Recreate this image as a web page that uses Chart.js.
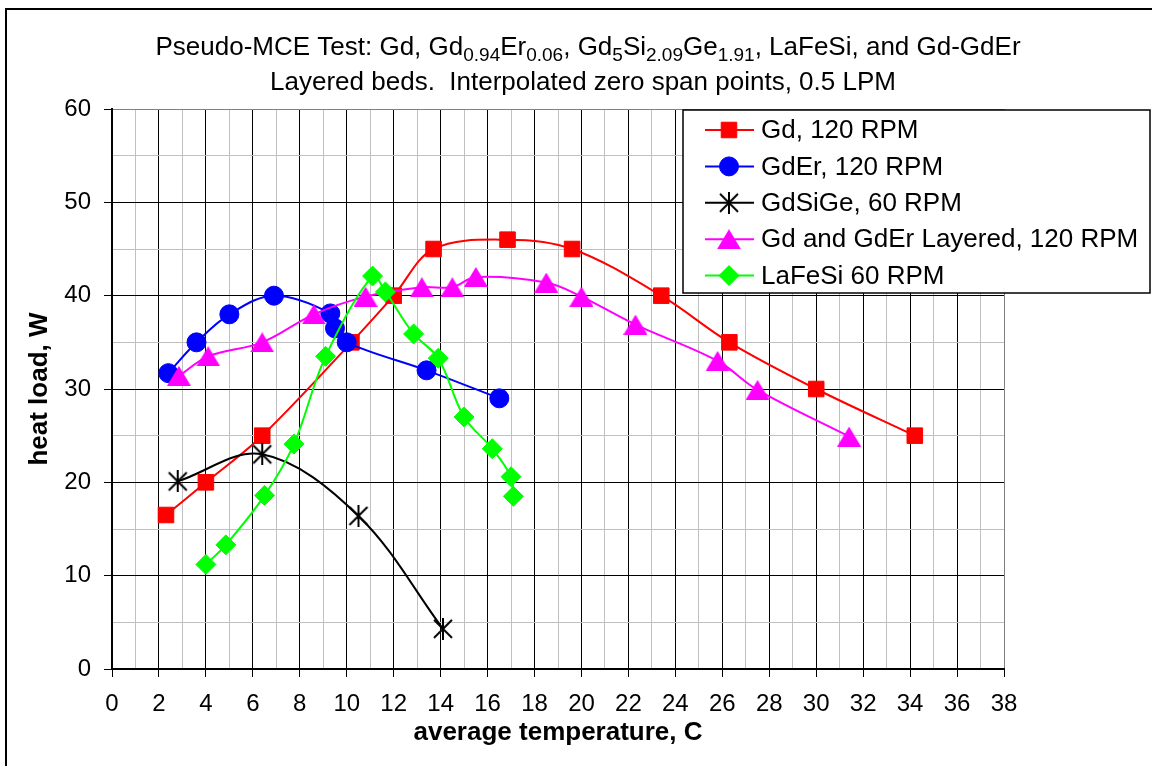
<!DOCTYPE html>
<html>
<head>
<meta charset="utf-8">
<script src="https://cdn.jsdelivr.net/npm/chart.js@4"></script>
<style>
  html, body { margin: 0; padding: 0; background: #fff; }
  #wrap { width: 1152px; height: 766px; position: relative; }
</style>
</head>
<body>
<div id="wrap"><canvas id="chart" width="1152" height="766"></canvas></div>
<script>
// Data
const gdX = [2.3, 4.0, 6.4, 10.2, 12.0, 13.7, 16.85, 19.6, 23.4, 26.3, 30.0, 34.2];
const gdY = [16.5, 20.0, 25.0, 35.0, 40.0, 45.0, 46.0, 45.0, 40.0, 35.0, 30.0, 25.0];

const gdErX = [2.4, 3.6, 5.0, 6.9, 9.3, 9.5, 10.0, 13.4, 16.5];
const gdErY = [31.7, 35.0, 38.0, 40.0, 38.1, 36.5, 35.0, 32.0, 29.0];

const gdSiGeX = [2.8, 6.4, 10.5, 14.1];
const gdSiGeY = [20.1, 23.0, 16.4, 4.3];

const layeredX = [2.85, 4.1, 6.4, 8.6, 10.8, 13.2, 14.5, 15.5, 18.5, 20.0, 22.3, 25.8, 27.5, 31.4];
const layeredY = [31.4, 33.5, 35.0, 38.0, 39.9, 40.9, 40.9, 42.0, 41.4, 39.9, 36.9, 33.0, 29.9, 24.9];

const laFeSiX = [4.0, 4.85, 6.5, 7.75, 9.1, 11.1, 11.65, 12.85, 13.9, 15.0, 16.2, 17.0, 17.1];
const laFeSiY = [11.2, 13.3, 18.6, 24.1, 33.5, 42.1, 40.4, 35.9, 33.3, 27.0, 23.6, 20.6, 18.5];

const seriesNames = ['Gd, 120 RPM', 'GdEr, 120 RPM', 'GdSiGe, 60 RPM', 'Gd and GdEr Layered, 120 RPM', 'LaFeSi 60 RPM'];

const FONT = "'Liberation Sans', Arial, sans-serif";

function toPoints(xs, ys) {
    return xs.map((x, i) => ({ x: x, y: ys[i] }));
}

// Asterisk marker (X with a vertical stroke), like the spreadsheet one
function makeAsterisk(size) {
    const c = document.createElement('canvas');
    c.width = size; c.height = size;
    const g = c.getContext('2d');
    g.strokeStyle = '#000';
    g.lineWidth = 2;
    const m = 2, s = size - 2;
    g.beginPath();
    g.moveTo(m, m); g.lineTo(s, s);
    g.moveTo(s, m); g.lineTo(m, s);
    g.moveTo(size / 2, 0); g.lineTo(size / 2, size);
    g.stroke();
    return c;
}

// Triangle centred on its bounding box
function makeTriangle(w, h, color) {
    const c = document.createElement('canvas');
    c.width = w; c.height = h;
    const g = c.getContext('2d');
    g.fillStyle = color;
    g.beginPath();
    g.moveTo(w / 2, 0);
    g.lineTo(w, h);
    g.lineTo(0, h);
    g.closePath();
    g.fill();
    return c;
}

const asterisk = makeAsterisk(22);
const triangle = makeTriangle(24, 20, '#ff00ff');

// Title with subscripts and the outer frame
const titlePlugin = {
    id: 'titleFrame',
    beforeDraw(chart) {
        const ctx = chart.ctx;
        ctx.save();
        ctx.fillStyle = '#fff';
        ctx.fillRect(0, 0, chart.width, chart.height);
        ctx.strokeStyle = '#000';
        ctx.lineWidth = 2;
        ctx.strokeRect(6, 9, 1200, 800);
        ctx.restore();
    },
    afterDraw(chart) {
        const ctx = chart.ctx;
        ctx.save();
        ctx.fillStyle = '#000';
        ctx.textBaseline = 'alphabetic';
        const big = '26px ' + FONT, small = '19px ' + FONT;
        const line1 = [
            ['Pseudo-MCE Test: Gd, Gd', 0], ['0.94', 1], ['Er', 0], ['0.06', 1],
            [', Gd', 0], ['5', 1], ['Si', 0], ['2.09', 1], ['Ge', 0], ['1.91', 1],
            [', LaFeSi, and Gd-GdEr', 0]
        ];
        let total = 0;
        line1.forEach(p => { ctx.font = p[1] ? small : big; total += ctx.measureText(p[0]).width; });
        let x = 588 - total / 2;
        line1.forEach(p => {
            ctx.font = p[1] ? small : big;
            ctx.fillText(p[0], x, p[1] ? 61 : 55);
            x += ctx.measureText(p[0]).width;
        });
        ctx.font = big;
        ctx.textAlign = 'center';
        ctx.fillText('Layered beds.  Interpolated zero span points, 0.5 LPM', 583, 90);
        ctx.restore();
    }
};

// Legend box overlapping the top right of the plot
const legendPlugin = {
    id: 'boxLegend',
    afterDraw(chart) {
        const ctx = chart.ctx;
        ctx.save();
        ctx.fillStyle = '#fff';
        ctx.fillRect(683, 110, 467, 183);
        ctx.strokeStyle = '#000';
        ctx.lineWidth = 1.5;
        ctx.strokeRect(683, 110, 467, 183);
        ctx.font = '26px ' + FONT;
        ctx.textBaseline = 'middle';
        chart.data.datasets.forEach((ds, i) => {
            const y = 130 + i * 36.4;
            ctx.strokeStyle = ds.borderColor;
            ctx.lineWidth = 2;
            ctx.beginPath();
            ctx.moveTo(705, y);
            ctx.lineTo(754, y);
            ctx.stroke();
            ctx.fillStyle = ds.pointBackgroundColor;
            ctx.strokeStyle = ds.pointBorderColor;
            ctx.lineWidth = 1;
            Chart.helpers.drawPoint(ctx, {
                pointStyle: ds.pointStyle,
                radius: ds.pointRadius,
                rotation: 0,
                borderWidth: 1
            }, 729, y);
            ctx.fillStyle = '#000';
            ctx.fillText(ds.label, 761, y + 1);
        });
        ctx.restore();
    }
};

const datasets = [
    {
        label: seriesNames[0], data: toPoints(gdX, gdY),
        borderColor: '#ff0000', backgroundColor: '#ff0000',
        pointBackgroundColor: '#ff0000', pointBorderColor: '#ff0000',
        pointStyle: 'rect', pointRadius: 11, order: 5
    },
    {
        label: seriesNames[1], data: toPoints(gdErX, gdErY),
        borderColor: '#0000ff', backgroundColor: '#0000ff',
        pointBackgroundColor: '#0000ff', pointBorderColor: '#0000ff',
        pointStyle: 'circle', pointRadius: 9.5, order: 4
    },
    {
        label: seriesNames[2], data: toPoints(gdSiGeX, gdSiGeY),
        borderColor: '#000000', backgroundColor: '#000000',
        pointBackgroundColor: '#000000', pointBorderColor: '#000000',
        pointStyle: asterisk, pointRadius: 11, order: 3
    },
    {
        label: seriesNames[3], data: toPoints(layeredX, layeredY),
        borderColor: '#ff00ff', backgroundColor: '#ff00ff',
        pointBackgroundColor: '#ff00ff', pointBorderColor: '#ff00ff',
        pointStyle: triangle, pointRadius: 12, order: 2
    },
    {
        label: seriesNames[4], data: toPoints(laFeSiX, laFeSiY),
        borderColor: '#00ff00', backgroundColor: '#00ff00',
        pointBackgroundColor: '#00ff00', pointBorderColor: '#00ff00',
        pointStyle: 'rectRot', pointRadius: 10, order: 1
    }
];

datasets.forEach(ds => {
    ds.showLine = true;
    ds.borderWidth = 2;
    ds.pointBorderWidth = 1;
    ds.tension = 0.35;
    ds.pointHoverRadius = ds.pointRadius;
});

new Chart(document.getElementById('chart'), {
    type: 'scatter',
    data: { datasets: datasets },
    options: {
        responsive: false,
        animation: false,
        layout: { padding: { top: 109, right: 148, left: 0, bottom: 0 } },
        plugins: {
            legend: { display: false },
            title: { display: false },
            tooltip: { enabled: false }
        },
        scales: {
            x: {
                type: 'linear', min: 0, max: 38,
                afterFit: s => { s.height = 97; },
                ticks: {
                    stepSize: 1, autoSkip: false, maxRotation: 0, padding: 15,
                    color: '#000', font: { family: FONT, size: 24, lineHeight: 1 },
                    callback: v => (v % 2 === 0 ? v : '')
                },
                grid: {
                    tickLength: 8,
                    color: c => c.tick.value === 38 ? '#808080' : (c.tick.value % 2 ? '#c0c0c0' : '#000'),
                    tickColor: c => (c.tick.value % 2 ? 'rgba(0,0,0,0)' : '#000')
                },
                border: { color: '#000', width: 2 },
                title: {
                    display: true, text: 'average temperature, C', color: '#000',
                    font: { family: FONT, size: 26, weight: 'bold', lineHeight: 1.2 },
                    padding: { top: 0, bottom: 18 }
                }
            },
            y: {
                min: 0, max: 60,
                afterFit: s => { s.width = 112; },
                ticks: {
                    stepSize: 5, padding: 13,
                    color: '#000', font: { family: FONT, size: 24 },
                    callback: v => (v % 10 === 0 ? v : '')
                },
                grid: {
                    tickLength: 8,
                    color: c => c.tick.value === 60 ? '#808080' : (c.tick.value % 10 ? '#c0c0c0' : '#000'),
                    tickColor: c => (c.tick.value % 10 ? 'rgba(0,0,0,0)' : '#000')
                },
                border: { color: '#000', width: 2 },
                title: {
                    display: true, text: 'heat load, W', color: '#000',
                    font: { family: FONT, size: 26, weight: 'bold', lineHeight: 1.2 },
                    padding: { top: 24, bottom: 0 }
                }
            }
        }
    },
    plugins: [titlePlugin, legendPlugin]
});
</script>
</body>
</html>
